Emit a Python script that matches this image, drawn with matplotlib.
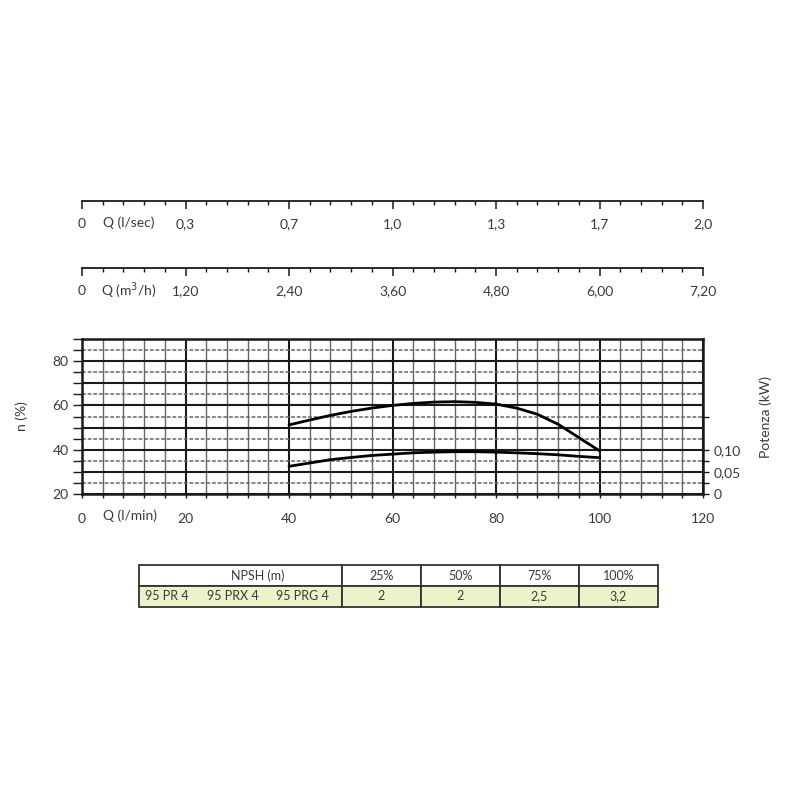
import numpy as np
import matplotlib
matplotlib.use("Agg")
import matplotlib.pyplot as plt
from matplotlib.ticker import FixedLocator

plt.rcParams['font.family'] = ['Lato', 'DejaVu Sans']

# --- data ---
q_lmin = [40, 44, 48, 52, 56, 60, 64, 68, 72, 76, 80, 84, 88, 92, 96, 100]
eff_pct = [51.2, 53.4, 55.5, 57.3, 58.8, 60.0, 60.9, 61.5, 61.7, 61.4,
           60.6, 58.8, 56.0, 51.5, 45.5, 39.5]
power_kw = [0.0625, 0.070, 0.0775, 0.0825, 0.087, 0.090, 0.093, 0.0945,
            0.0955, 0.0955, 0.0945, 0.093, 0.091, 0.0885, 0.085, 0.082]

flow_ticks = [0, 20, 40, 60, 80, 100, 120]
lsec_labels = ["0", "0,3", "0,7", "1,0", "1,3", "1,7", "2,0"]
m3h_labels = ["0", "1,20", "2,40", "3,60", "4,80", "6,00", "7,20"]
lmin_labels = ["0", "20", "40", "60", "80", "100", "120"]

eff_ticks = [20, 30, 40, 50, 60, 70, 80, 90]
eff_labels = ["20", "", "40", "", "60", "", "80", ""]
power_ticks = [0, 0.05, 0.10]
power_labels = ["0", "0,05", "0,10"]

npsh_header = ["", "25%", "50%", "75%", "100%"]
npsh_values = ["", "2", "2", "2,5", "3,2"]
models = ["95 PR 4", "95 PRX 4", "95 PRG 4"]

TXT = "#3a3a3a"
DARK = "#1a1a1a"
GREY = "#666666"
GREEN = "#edf3c8"

W = H = 800.0


def px_rect(left, top, right, bottom):
    return [left / W, 1 - bottom / H, (right - left) / W, (bottom - top) / H]


def flow_scale(fig, y_line, labels, unit):
    ax = fig.add_axes(px_rect(82, y_line - 0.5, 703, y_line))
    ax.set_xlim(0, 120)
    ax.set_ylim(0, 1)
    for s in ["top", "left", "right"]:
        ax.spines[s].set_visible(False)
    ax.spines["bottom"].set_linewidth(1.3)
    ax.spines["bottom"].set_color(DARK)
    ax.set_yticks([])
    ax.set_xticks(flow_ticks)
    ax.set_xticklabels(labels)
    ax.xaxis.set_minor_locator(FixedLocator([v for v in range(4, 120, 4) if v % 20]))
    ax.tick_params(axis="x", which="major", length=6, width=1.1, color=DARK,
                   pad=6, labelsize=10, labelcolor=TXT)
    ax.tick_params(axis="x", which="minor", length=3, width=1.0, color=DARK)
    ax.annotate(unit, xy=(9.0, 0), xycoords=("data", "axes fraction"),
                xytext=(0, -16), textcoords="offset points",
                ha="center", va="center", fontsize=10, color=TXT)
    return ax


def main():
    fig = plt.figure(figsize=(8, 8), dpi=100)

    # --- secondary flow scales ---
    flow_scale(fig, 201, lsec_labels, "Q (l/sec)")
    flow_scale(fig, 268, m3h_labels, "Q (m$^3$/h)")

    # --- main chart ---
    ax = fig.add_axes(px_rect(82, 339, 703, 494))
    ax.set_xlim(0, 120)
    ax.set_ylim(20, 90)

    ax.set_xticks(flow_ticks)
    ax.set_xticklabels(lmin_labels)
    ax.xaxis.set_minor_locator(FixedLocator([v for v in range(4, 120, 4) if v % 20]))
    ax.set_yticks(eff_ticks)
    ax.set_yticklabels(eff_labels)
    ax.yaxis.set_minor_locator(FixedLocator(list(range(25, 90, 10))))

    ax.grid(which="major", axis="x", color=DARK, lw=1.5)
    ax.grid(which="minor", axis="x", color=GREY, lw=1.0)
    ax.grid(which="major", axis="y", color=DARK, lw=1.5)
    ax.grid(which="minor", axis="y", color=GREY, lw=1.1, ls=(0, (2.5, 1.2)))
    ax.set_axisbelow(True)

    ax.tick_params(axis="x", which="both", length=3, width=1.0, color=DARK,
                   pad=11, labelsize=10, labelcolor=TXT)
    ax.tick_params(axis="y", which="both", length=6.5, width=1.0, color=DARK,
                   pad=3, labelsize=10, labelcolor=TXT)
    for s in ax.spines.values():
        s.set_linewidth(1.8)
        s.set_color(DARK)

    ax.plot(q_lmin, eff_pct, color="black", lw=2.0, solid_capstyle="round",
            solid_joinstyle="round", zorder=5)
    ax.set_ylabel("n (%)", fontsize=10, color=TXT, labelpad=18)
    ax.annotate("Q (l/min)", xy=(9.3, 0), xycoords=("data", "axes fraction"),
                xytext=(0, -15.5), textcoords="offset points",
                ha="center", va="center", fontsize=10, color=TXT)

    ax2 = ax.twinx()
    ax2.set_ylim(0, 0.35)
    ax2.set_yticks(power_ticks)
    ax2.set_yticklabels(power_labels)
    ax2.yaxis.set_minor_locator(FixedLocator([0.025, 0.075, 0.175]))
    ax2.tick_params(axis="y", which="both", length=4, width=1.0, color=DARK,
                    pad=4, labelsize=10, labelcolor=TXT)
    for s in ax2.spines.values():
        s.set_visible(False)
    ax2.plot(q_lmin, power_kw, color="black", lw=2.0, solid_capstyle="round",
             solid_joinstyle="round", zorder=5)
    ax2.set_ylabel("Potenza (kW)", fontsize=10, color=TXT, labelpad=13)

    # --- NPSH table ---
    tax = fig.add_axes(px_rect(139, 565, 658, 607))
    tax.axis("off")
    col_px = [203, 79, 79, 79, 79]
    widths = [c / sum(col_px) for c in col_px]
    tbl = tax.table(cellText=[npsh_header, npsh_values], colWidths=widths,
                    cellLoc="center", bbox=[0, 0, 1, 1])
    tbl.auto_set_font_size(False)
    tbl.set_fontsize(9)
    for (r, c), cell in tbl.get_celld().items():
        cell.set_edgecolor("#333333")
        cell.set_linewidth(1.3)
        cell.get_text().set_color(TXT)
        cell.set_facecolor("white" if r == 0 else GREEN)

    tax.text((258 - 139) / 519, 0.75, "NPSH (m)", ha="center", va="center",
             fontsize=9, color=TXT)
    for name, xpx in zip(models, [167, 233, 302]):
        tax.text((xpx - 139) / 519, 0.25, name, ha="center", va="center",
                 fontsize=9, color=TXT)

    fig.savefig("out.png", dpi=100, facecolor="white")


if __name__ == "__main__":
    main()
